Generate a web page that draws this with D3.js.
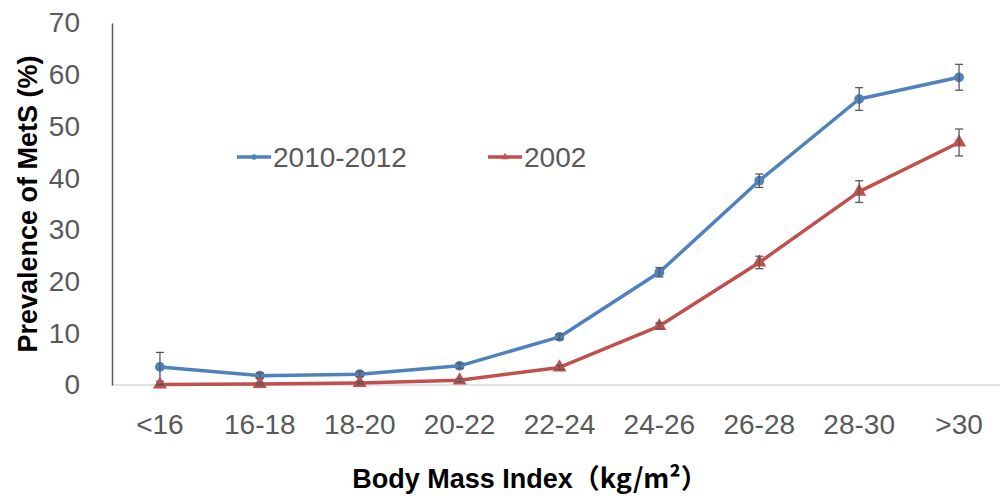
<!DOCTYPE html>
<html lang="en">
<head>
    <meta charset="UTF-8">
    <title>Prevalence of MetS by BMI</title>
    <script src="https://d3js.org/d3.v7.min.js"></script>
    <style>
        body { margin: 0; background: #fff; }
        text { font-family: "Liberation Sans", Arial, sans-serif; }
        .tick-label { fill: #595959; font-size: 28px; }
        .title { fill: #000; font-weight: bold; font-size: 27px; }
    </style>
</head>
<body>
    <svg width="1000" height="498"></svg>
    <script>
        const categories = ["<16", "16-18", "18-20", "20-22", "22-24", "24-26", "26-28", "28-30", ">30"];
        const yTicks = [0, 10, 20, 30, 40, 50, 60, 70];
        const values2010 = [3.5, 1.8, 2.1, 3.7, 9.3, 21.8, 39.5, 55.3, 59.5];
        const err2010 = [2.8, 0.5, 0.5, 0.5, 0.5, 0.9, 1.3, 2.2, 2.5];
        const values2002 = [0.1, 0.2, 0.4, 0.9, 3.4, 11.4, 23.7, 37.4, 46.9];
        const err2002 = [0.1, 0.2, 0.2, 0.3, 0.4, 0.6, 1.2, 2.1, 2.6];

        const svg = d3.select("svg");

        const x = d3.scaleBand()
            .domain(categories)
            .range([110, 1009]);
        const y = d3.scaleLinear()
            .domain([0, 70])
            .range([385, 23]);

        // baseline
        svg.append("line")
            .attr("x1", 112).attr("x2", 1000)
            .attr("y1", y(0)).attr("y2", y(0))
            .attr("stroke", "#d9d9d9").attr("stroke-width", 1.5);

        // y axis
        const yAxis = svg.append("g")
            .attr("transform", "translate(112,0)")
            .call(d3.axisLeft(y).tickValues(yTicks).tickSize(0).tickPadding(32));
        yAxis.select(".domain").attr("stroke", "#595959").attr("stroke-width", 1.5);
        yAxis.selectAll("text").attr("class", "tick-label").attr("fill", null);

        // x axis labels
        const xAxis = svg.append("g")
            .attr("transform", "translate(0," + y(0) + ")")
            .call(d3.axisBottom(x).tickSize(0).tickPadding(29));
        xAxis.select(".domain").remove();
        xAxis.selectAll("text").attr("class", "tick-label").attr("fill", null);

        const cx = d => x(d) + x.bandwidth() / 2;

        const series = [
            { name: "2010-2012", values: values2010, errs: err2010, color: "#4f81bd", marker: d3.symbolCircle, size: 75 },
            { name: "2002", values: values2002, errs: err2002, color: "#c0504d", marker: d3.symbolTriangle, size: 85 }
        ];

        const line = d3.line()
            .x((d, i) => cx(categories[i]))
            .y(d => y(d));

        series.forEach(s => {
            svg.append("path")
                .datum(s.values)
                .attr("d", line)
                .attr("fill", "none")
                .attr("stroke", s.color)
                .attr("stroke-width", 3.5)
                .attr("stroke-linejoin", "round");

            svg.append("g").selectAll("path")
                .data(s.values)
                .join("path")
                .attr("transform", (d, i) => "translate(" + cx(categories[i]) + "," + y(d) + ")")
                .attr("d", d3.symbol().type(s.marker).size(s.size))
                .attr("fill", s.color);

            const eb = svg.append("g")
                .attr("stroke", "#595959")
                .attr("stroke-width", 1.3);
            s.values.forEach((v, i) => {
                const px = cx(categories[i]);
                const top = y(v + s.errs[i]), bot = y(Math.max(0, v - s.errs[i]));
                eb.append("line").attr("x1", px).attr("x2", px).attr("y1", top).attr("y2", bot);
                eb.append("line").attr("x1", px - 4).attr("x2", px + 4).attr("y1", top).attr("y2", top);
                eb.append("line").attr("x1", px - 4).attr("x2", px + 4).attr("y1", bot).attr("y2", bot);
            });
        });

        // legend
        const legendX = [237, 488];
        series.forEach((s, i) => {
            const g = svg.append("g").attr("transform", "translate(" + legendX[i] + ",157)");
            g.append("line").attr("x1", 0).attr("x2", 34)
                .attr("stroke", s.color).attr("stroke-width", 3.5);
            g.append("path").attr("transform", "translate(17,0)")
                .attr("d", d3.symbol().type(s.marker).size(24))
                .attr("fill", s.color);
            g.append("text").attr("class", "tick-label")
                .attr("x", 36).attr("dy", "0.35em")
                .text(s.name);
        });

        // axis titles
        svg.append("text")
            .attr("class", "title")
            .attr("transform", "translate(37,204) rotate(-90)")
            .attr("text-anchor", "middle")
            .text("Prevalence of MetS (%)");

        const xt = svg.append("text")
            .attr("class", "title")
            .attr("x", 530).attr("y", 488)
            .attr("text-anchor", "middle");
        xt.append("tspan").text("Body Mass Index");
        xt.append("tspan").style("font-family", "'Noto Sans CJK SC'").text("（kg/m²）");
    </script>
</body>
</html>
